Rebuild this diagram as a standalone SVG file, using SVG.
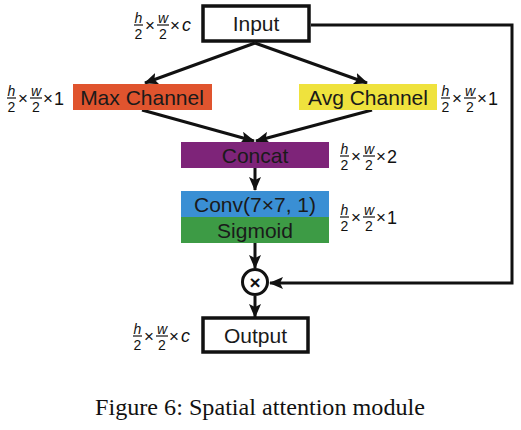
<svg xmlns="http://www.w3.org/2000/svg" width="521" height="430" viewBox="0 0 521 430">
<style>
.lbl{font-family:"Liberation Sans",Arial,sans-serif;font-size:21px;fill:#1a1a1a;text-anchor:middle}
.dim{font-family:"Liberation Sans",Arial,sans-serif;fill:#111}
.f{font-size:14px;text-anchor:middle}
.it{font-style:italic}
.m{font-size:17px}
.b{font-size:18px}
.bar{stroke:#111;stroke-width:1.2}
.ln{stroke:#111;stroke-width:3;fill:none}
.box{fill:#fff;stroke:#111;stroke-width:3.5}
.cap{font-family:"Liberation Serif","Times New Roman",serif;font-size:24px;fill:#111}
</style>
<defs>
<marker id="ah" markerUnits="userSpaceOnUse" markerWidth="14" markerHeight="12" refX="13" refY="6" orient="auto">
<path d="M0,0 L14,6 L0,12 L3,6 Z" fill="#111"/>
</marker>
</defs>

<g id="connectors">
<line class="ln" x1="255" y1="43" x2="145" y2="83" marker-end="url(#ah)"/>
<line class="ln" x1="255" y1="43" x2="367" y2="83" marker-end="url(#ah)"/>
<line class="ln" x1="142" y1="110" x2="254" y2="141" marker-end="url(#ah)"/>
<line class="ln" x1="372" y1="110" x2="256" y2="141" marker-end="url(#ah)"/>
<line class="ln" x1="255" y1="168" x2="255" y2="190" marker-end="url(#ah)"/>
<line class="ln" x1="255" y1="243" x2="255" y2="268" marker-end="url(#ah)"/>
<line class="ln" x1="255" y1="296" x2="255" y2="317" marker-end="url(#ah)"/>
<polyline class="ln" points="311,25 512,25 512,283 270,283" stroke-width="3.5" marker-end="url(#ah)"/>
</g>

<g id="input">
<rect class="box" x="203" y="6" width="106" height="35"/>
<text class="lbl" x="256" y="31">Input</text>
</g>
<g id="maxchannel">
<rect x="73" y="84" width="139" height="26" fill="#E0542E"/>
<text class="lbl" x="142" y="105">Max Channel</text>
</g>
<g id="avgchannel">
<rect x="299" y="84" width="138" height="26" fill="#EFE23D"/>
<text class="lbl" x="368" y="105">Avg Channel</text>
</g>
<g id="concat">
<rect x="181" y="142" width="148" height="26" fill="#7E2479"/>
<text class="lbl" x="255" y="163">Concat</text>
</g>
<g id="conv">
<rect x="181" y="191" width="148" height="26" fill="#3A8FD4"/>
<text class="lbl" x="255" y="212">Conv(7×7, 1)</text>
</g>
<g id="sigmoid">
<rect x="181" y="217" width="148" height="26" fill="#3D9B45"/>
<text class="lbl" x="255" y="238">Sigmoid</text>
</g>
<g id="multiply">
<circle cx="255" cy="282" r="12.5" fill="#fff" stroke="#111" stroke-width="3"/>
<text class="dim" x="255" y="288.5" text-anchor="middle" font-size="19" font-weight="bold">×</text>
</g>
<g id="output">
<rect class="box" x="203" y="318" width="105" height="34"/>
<text class="lbl" x="255.5" y="343">Output</text>
</g>

<g id="dims">
<g transform="translate(134,25)">
<line class="bar" x1="0" y1="0" x2="9" y2="0"/><line class="bar" x1="23" y1="0" x2="35" y2="0"/>
<text class="dim"><tspan class="f it" x="4.5" y="-2.5">h</tspan><tspan class="f" x="4.5" y="13.5">2</tspan><tspan class="m" x="11" y="5.5">×</tspan><tspan class="f it" x="29" y="-2.5">w</tspan><tspan class="f" x="29" y="13.5">2</tspan><tspan class="m" x="36" y="5.5">×</tspan><tspan class="b it" x="48" y="6">c</tspan></text>
</g>
<g transform="translate(7,98)">
<line class="bar" x1="0" y1="0" x2="9" y2="0"/><line class="bar" x1="23" y1="0" x2="35" y2="0"/>
<text class="dim"><tspan class="f it" x="4.5" y="-2.5">h</tspan><tspan class="f" x="4.5" y="13.5">2</tspan><tspan class="m" x="11" y="5.5">×</tspan><tspan class="f it" x="29" y="-2.5">w</tspan><tspan class="f" x="29" y="13.5">2</tspan><tspan class="m" x="36" y="5.5">×</tspan><tspan class="b" x="47" y="6.5">1</tspan></text>
</g>
<g transform="translate(441,98)">
<line class="bar" x1="0" y1="0" x2="9" y2="0"/><line class="bar" x1="23" y1="0" x2="35" y2="0"/>
<text class="dim"><tspan class="f it" x="4.5" y="-2.5">h</tspan><tspan class="f" x="4.5" y="13.5">2</tspan><tspan class="m" x="11" y="5.5">×</tspan><tspan class="f it" x="29" y="-2.5">w</tspan><tspan class="f" x="29" y="13.5">2</tspan><tspan class="m" x="36" y="5.5">×</tspan><tspan class="b" x="47" y="6.5">1</tspan></text>
</g>
<g transform="translate(340,156)">
<line class="bar" x1="0" y1="0" x2="9" y2="0"/><line class="bar" x1="23" y1="0" x2="35" y2="0"/>
<text class="dim"><tspan class="f it" x="4.5" y="-2.5">h</tspan><tspan class="f" x="4.5" y="13.5">2</tspan><tspan class="m" x="11" y="5.5">×</tspan><tspan class="f it" x="29" y="-2.5">w</tspan><tspan class="f" x="29" y="13.5">2</tspan><tspan class="m" x="36" y="5.5">×</tspan><tspan class="b" x="47" y="6.5">2</tspan></text>
</g>
<g transform="translate(340,217)">
<line class="bar" x1="0" y1="0" x2="9" y2="0"/><line class="bar" x1="23" y1="0" x2="35" y2="0"/>
<text class="dim"><tspan class="f it" x="4.5" y="-2.5">h</tspan><tspan class="f" x="4.5" y="13.5">2</tspan><tspan class="m" x="11" y="5.5">×</tspan><tspan class="f it" x="29" y="-2.5">w</tspan><tspan class="f" x="29" y="13.5">2</tspan><tspan class="m" x="36" y="5.5">×</tspan><tspan class="b" x="47" y="6.5">1</tspan></text>
</g>
<g transform="translate(133,336)">
<line class="bar" x1="0" y1="0" x2="9" y2="0"/><line class="bar" x1="23" y1="0" x2="35" y2="0"/>
<text class="dim"><tspan class="f it" x="4.5" y="-2.5">h</tspan><tspan class="f" x="4.5" y="13.5">2</tspan><tspan class="m" x="11" y="5.5">×</tspan><tspan class="f it" x="29" y="-2.5">w</tspan><tspan class="f" x="29" y="13.5">2</tspan><tspan class="m" x="36" y="5.5">×</tspan><tspan class="b it" x="48" y="6">c</tspan></text>
</g>
</g>

<text class="cap" x="95" y="415" textLength="330" lengthAdjust="spacingAndGlyphs">Figure 6: Spatial attention module</text>
</svg>
